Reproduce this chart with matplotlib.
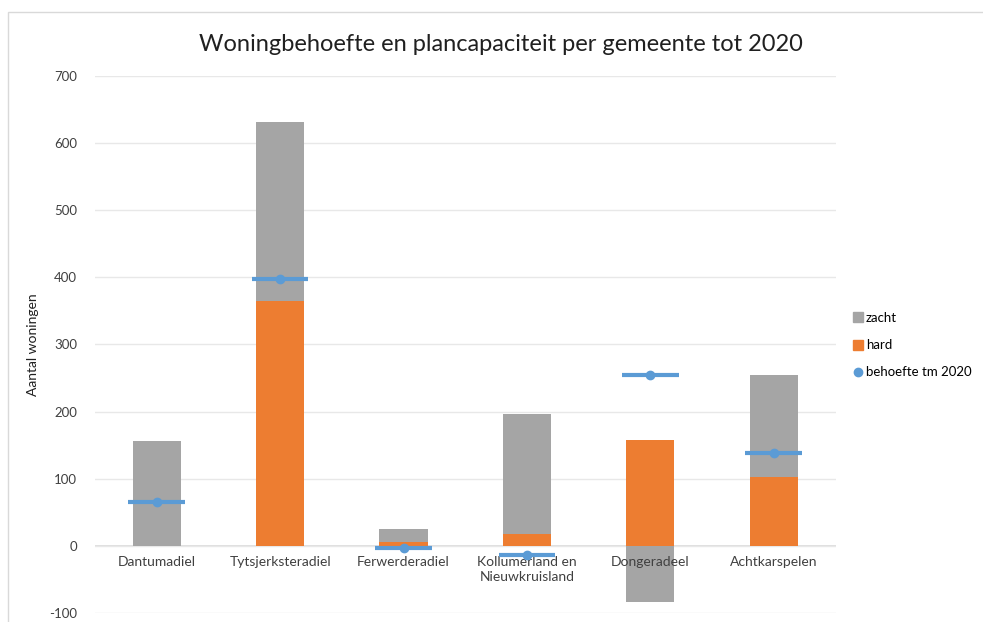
import numpy as np
import matplotlib
matplotlib.use('Agg')
import matplotlib.pyplot as plt
from matplotlib.patches import Rectangle
from matplotlib.lines import Line2D

# === Data ===
gemeenten = ['Dantumadiel', 'Tytsjerksteradiel', 'Ferwerderadiel',
             'Kollumerland en\nNieuwkruisland', 'Dongeradeel', 'Achtkarspelen']
hard = [0, 365, 5, 18, 158, 103]
zacht = [156, 267, 20, 178, -84, 152]
behoefte = [66, 398, -3, -14, 255, 139]

c_zacht = '#A5A5A5'
c_hard = '#ED7D31'
c_beh = '#5B9BD5'

plt.rcParams['font.family'] = ['Lato', 'DejaVu Sans']
plt.rcParams['axes.unicode_minus'] = False

fig = plt.figure(figsize=(9.83, 6.22), dpi=100)
ax = fig.add_axes([0.0966, 0.0145, 0.7534, 0.8635])

# kader om de grafiek
fig.patches.append(Rectangle((8 / 983, -0.1), 1.2, 1 - 12 / 622 + 0.1,
                             transform=fig.transFigure, fill=False,
                             edgecolor='#d9d9d9', linewidth=1))

x = np.arange(len(gemeenten))
hard = np.array(hard)
zacht = np.array(zacht)
onder = np.where(zacht >= 0, hard, 0)

ax.bar(x, hard, width=0.39, color=c_hard, label='hard', zorder=2)
ax.bar(x, zacht, width=0.39, bottom=onder, color=c_zacht, label='zacht', zorder=2)
ax.errorbar(x, behoefte, xerr=0.23, fmt='o', color=c_beh, ecolor=c_beh,
            elinewidth=3, capsize=0, markersize=6, label='behoefte tm 2020', zorder=6)

ax.set_xlim(-0.5, 5.5)
ax.set_ylim(-100, 700)
ax.set_yticks(np.arange(-100, 701, 100))
ax.tick_params(axis='y', length=0, labelsize=9.5, colors='#404040', pad=13)
ax.set_xticks([])
ax.grid(axis='y', color='#e8e8e8', linewidth=1, zorder=0)
ax.axhline(0, color='#d9d9d9', linewidth=1.2, zorder=1)
for s in ax.spines.values():
    s.set_visible(False)

# categorielabels direct onder de nullijn
for xi, naam in zip(x, gemeenten):
    ax.annotate(naam, (xi, 0), xytext=(0, -7), textcoords='offset points',
                ha='center', va='top', fontsize=10, color='#404040', zorder=5,
                linespacing=1.3)

ax.set_ylabel('Aantal woningen', fontsize=10, color='#202020', labelpad=7)
fig.text(0.51, 0.928, 'Woningbehoefte en plancapaciteit per gemeente tot 2020',
         ha='center', va='center', fontsize=17, color='#202020')

handles = [Line2D([], [], marker='s', linestyle='', color=c_zacht, markersize=7),
           Line2D([], [], marker='s', linestyle='', color=c_hard, markersize=7),
           Line2D([], [], marker='o', linestyle='', color=c_beh, markersize=6)]
fig.legend(handles, ['zacht', 'hard', 'behoefte tm 2020'], loc='center left',
           bbox_to_anchor=(0.866, 0.445), frameon=False, fontsize=9.5,
           handletextpad=0.1, labelspacing=1.15, handlelength=1.0,
           borderaxespad=0, borderpad=0)

fig.savefig('out.png', dpi=100)
